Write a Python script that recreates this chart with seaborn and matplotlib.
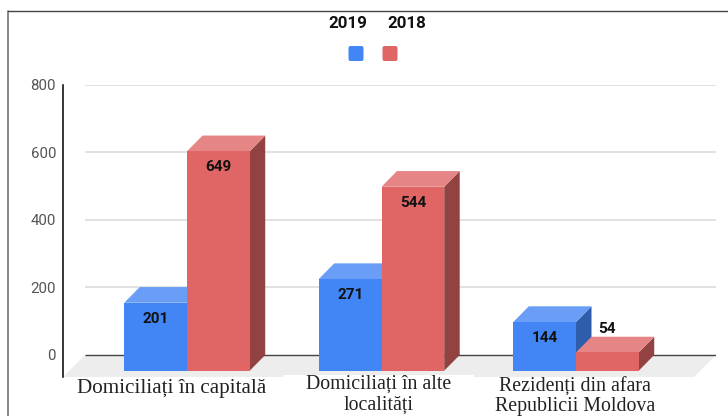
import matplotlib
matplotlib.use("Agg")
import matplotlib.pyplot as plt
import matplotlib.transforms as mtrans
from matplotlib.patches import FancyBboxPatch, Polygon
from matplotlib.lines import Line2D
import pandas as pd
import seaborn as sns

categories = ["Domiciliați în capitală", "Domiciliați în alte\nlocalități",
              "Rezidenți din afara\nRepublicii Moldova"]
series_names = ["2019", "2018"]
values_2019 = [201, 271, 144]
values_2018 = [649, 544, 54]
y_ticks = [0, 200, 400, 600, 800]

W, H = 728, 416
BLUE, BLUE_TOP, BLUE_SIDE = "#4285F4", "#6A9DF6", "#2E5DAB"
RED, RED_TOP, RED_SIDE = "#E06666", "#E68585", "#934242"

sns.set_theme(style="white")
plt.rcParams["font.family"] = ["Roboto", "DejaVu Sans"]

df = pd.DataFrame({
    "cat": categories * 2,
    "year": [series_names[0]] * 3 + [series_names[1]] * 3,
    "value": values_2019 + values_2018,
})

fig = plt.figure(figsize=(W / 100, H / 100), dpi=100, facecolor="white")
ax = fig.add_axes([63 / W, 1 - 377 / H, (716 - 63) / W, (377 - 84.5) / H])
ax.patch.set_alpha(0)

PX_X = 194.5                 # pixels per category
PX_Y = 0.338                 # pixels per value unit
DX, DY = 15.5 / PX_X, 15.7 / PX_Y   # depth of the pseudo-3D boxes
xlim = ((63 - 187) / PX_X, (716 - 187) / PX_X)
ylim = (-22 / PX_Y, 800)

sns.barplot(data=df, x="cat", y="value", hue="year", hue_order=series_names,
            palette=[BLUE, RED], order=categories, width=0.645, gap=0,
            errorbar=None, legend=False, bottom=-DY, linewidth=0,
            saturation=1, ax=ax)

# floor and grid, behind the boxes
fx = 22 / PX_X
ax.add_patch(Polygon([(xlim[0], ylim[0]), (xlim[0] + fx, 0), (xlim[1], 0),
                      (xlim[1] - fx, ylim[0])], closed=True, fc="#EDEDED",
                     ec="none", zorder=1))
ax.hlines(y_ticks[1:], xlim[0] + fx, xlim[1], color="#D9D9D9", lw=1.1, zorder=1.2)
ax.hlines(0, xlim[0] + fx, xlim[1], color="#444444", lw=1.0, zorder=1.2)
ax.axvspan((283 - 187) / PX_X, (474 - 187) / PX_X, ymin=0, ymax=2.3 / 292.5,
           fc="white", ec="none", zorder=1.1)

# side and top faces grown from each bar
styles = [(BLUE_TOP, BLUE_SIDE, 3), (RED_TOP, RED_SIDE, 4)]
for container, (c_top, c_side, z) in zip(ax.containers, styles):
    for bar, val in zip(container, container.datavalues):
        x0, x1 = bar.get_x(), bar.get_x() + bar.get_width()
        y0, y1 = bar.get_y(), bar.get_y() + bar.get_height()
        bar.set_zorder(z + 0.2)
        ax.add_patch(Polygon([(x1, y0), (x1 + DX, y0 + DY), (x1 + DX, y1 + DY), (x1, y1)],
                             closed=True, fc=c_side, ec="none", zorder=z))
        ax.add_patch(Polygon([(x0, y1), (x0 + DX, y1 + DY), (x1 + DX, y1 + DY), (x1, y1)],
                             closed=True, fc=c_top, ec="none", zorder=z))
        off = 23.5 if val < 100 else -15.8
        ax.annotate(str(int(val)), ((x0 + x1) / 2, y1), xytext=(0, off * 0.72),
                    textcoords="offset points", ha="center", va="center",
                    fontsize=11, fontweight="bold", color="#111111", zorder=6)

ax.set_axisbelow(False)
ax.set_xlim(*xlim)
ax.set_ylim(*ylim)
ax.set_xlabel("")
ax.set_ylabel("")
ax.set_yticks(y_ticks)
ax.set_yticklabels([str(v) for v in y_ticks], fontsize=10.8, color="#555555")
ax.tick_params(axis="y", length=0, pad=5)
ax.set_xticks(range(3))
ax.set_xticklabels(categories)
ax.tick_params(axis="x", length=0, pad=0)

offsets = [(-15, -2, 15.2, 1.0), (-2.5, 2, 14.3, 1.1), (-1, 0, 14.3, 1.08)]
for lab, (dx, dy, size, ls) in zip(ax.get_xticklabels(), offsets):
    lab.set_family("Liberation Serif")
    lab.set_fontsize(size)
    lab.set_color("#222222")
    lab.set_linespacing(ls)
    lab.set_transform(lab.get_transform() +
                      mtrans.ScaledTranslation(dx / 100, dy / 100, fig.dpi_scale_trans))

for s in ["top", "right", "bottom"]:
    ax.spines[s].set_visible(False)
ax.spines["left"].set_color("black")
ax.spines["left"].set_linewidth(1.1)
ax.spines["left"].set_zorder(7)

# manual legend: years above their swatches
for name, tx, sx, col in zip(series_names, [348, 407], [356, 390], [BLUE, RED]):
    fig.text(tx / W, 1 - 23.5 / H, name, ha="center", va="center", fontsize=12.2,
             fontweight="bold", color="#111111")
    fig.add_artist(FancyBboxPatch((sx - 5.5, H - 59), 11, 11,
                                  boxstyle="round,pad=2,rounding_size=2",
                                  transform=mtrans.IdentityTransform(),
                                  fc=col, ec="none"))

# scan frame of the source page
fig.add_artist(Line2D([8 / W, 8 / W], [0, 1 - 11 / H], color="#808080", lw=1.3))
fig.add_artist(Line2D([8 / W, 1], [1 - 11 / H, 1 - 11 / H], color="#444444", lw=1.0))

fig.savefig("out.png", dpi=100)
